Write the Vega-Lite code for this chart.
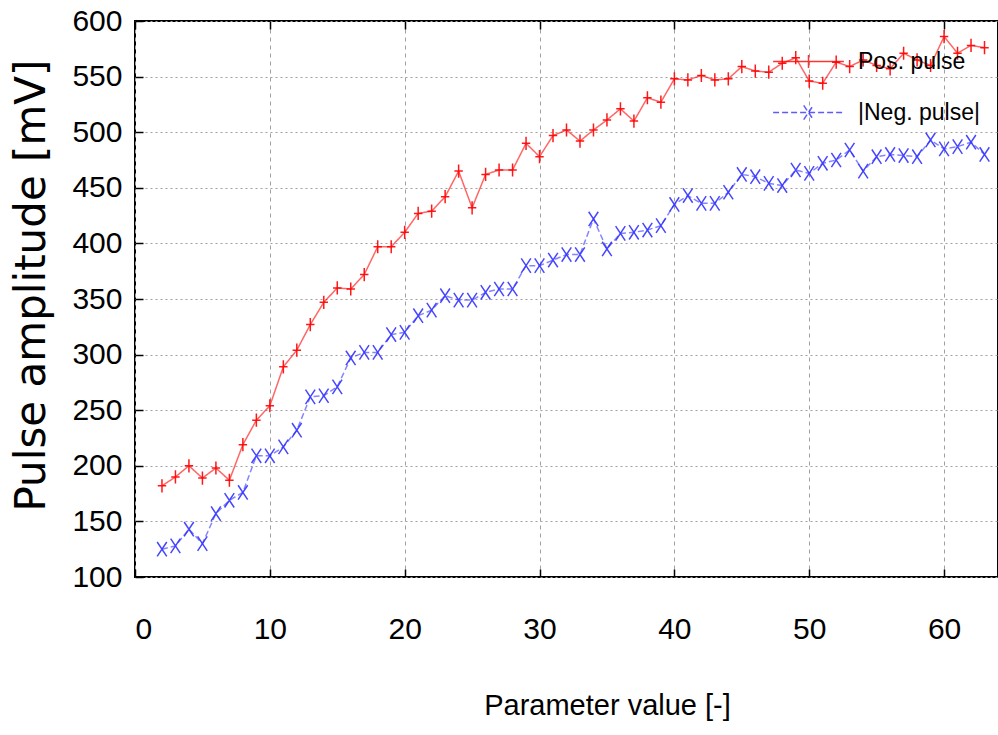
{
  "$schema": "https://vega.github.io/schema/vega-lite/v6.json",
  "width": 863,
  "height": 556,
  "autosize": {"type": "none"},
  "padding": {"left": 135, "top": 21, "right": 0, "bottom": 158},
  "background": "white",
  "config": {
    "view": {"stroke": "black", "strokeWidth": 2},
    "axis": {
      "labelFont": "Liberation Sans",
      "titleFont": "Liberation Sans",
      "labelColor": "black",
      "titleColor": "black",
      "titleFontWeight": "normal",
      "domain": false,
      "tickColor": "black",
      "tickWidth": 1.5
    }
  },
  "data": {"values": [
    {"x":2,"series":"Pos. pulse","y":182},{"x":3,"series":"Pos. pulse","y":190},{"x":4,"series":"Pos. pulse","y":200},{"x":5,"series":"Pos. pulse","y":189},{"x":6,"series":"Pos. pulse","y":198},{"x":7,"series":"Pos. pulse","y":187},{"x":8,"series":"Pos. pulse","y":219},{"x":9,"series":"Pos. pulse","y":241},{"x":10,"series":"Pos. pulse","y":254},{"x":11,"series":"Pos. pulse","y":289},{"x":12,"series":"Pos. pulse","y":304},{"x":13,"series":"Pos. pulse","y":327},{"x":14,"series":"Pos. pulse","y":347},{"x":15,"series":"Pos. pulse","y":360},{"x":16,"series":"Pos. pulse","y":359},{"x":17,"series":"Pos. pulse","y":372},{"x":18,"series":"Pos. pulse","y":397},{"x":19,"series":"Pos. pulse","y":397},{"x":20,"series":"Pos. pulse","y":410},{"x":21,"series":"Pos. pulse","y":427},{"x":22,"series":"Pos. pulse","y":429},{"x":23,"series":"Pos. pulse","y":442},{"x":24,"series":"Pos. pulse","y":465},{"x":25,"series":"Pos. pulse","y":432},{"x":26,"series":"Pos. pulse","y":462},{"x":27,"series":"Pos. pulse","y":466},{"x":28,"series":"Pos. pulse","y":466},{"x":29,"series":"Pos. pulse","y":490},{"x":30,"series":"Pos. pulse","y":478},{"x":31,"series":"Pos. pulse","y":497},{"x":32,"series":"Pos. pulse","y":502},{"x":33,"series":"Pos. pulse","y":492},{"x":34,"series":"Pos. pulse","y":502},{"x":35,"series":"Pos. pulse","y":511},{"x":36,"series":"Pos. pulse","y":521},{"x":37,"series":"Pos. pulse","y":510},{"x":38,"series":"Pos. pulse","y":531},{"x":39,"series":"Pos. pulse","y":527},{"x":40,"series":"Pos. pulse","y":548},{"x":41,"series":"Pos. pulse","y":547},{"x":42,"series":"Pos. pulse","y":551},{"x":43,"series":"Pos. pulse","y":547},{"x":44,"series":"Pos. pulse","y":548},{"x":45,"series":"Pos. pulse","y":559},{"x":46,"series":"Pos. pulse","y":555},{"x":47,"series":"Pos. pulse","y":554},{"x":48,"series":"Pos. pulse","y":562},{"x":49,"series":"Pos. pulse","y":567},{"x":50,"series":"Pos. pulse","y":546},{"x":51,"series":"Pos. pulse","y":544},{"x":52,"series":"Pos. pulse","y":563},{"x":53,"series":"Pos. pulse","y":559},{"x":54,"series":"Pos. pulse","y":565},{"x":55,"series":"Pos. pulse","y":560},{"x":56,"series":"Pos. pulse","y":557},{"x":57,"series":"Pos. pulse","y":571},{"x":58,"series":"Pos. pulse","y":565},{"x":59,"series":"Pos. pulse","y":560},{"x":60,"series":"Pos. pulse","y":586},{"x":61,"series":"Pos. pulse","y":571},{"x":62,"series":"Pos. pulse","y":578},{"x":63,"series":"Pos. pulse","y":576},
    {"x":2,"series":"|Neg. pulse|","y":125},{"x":3,"series":"|Neg. pulse|","y":128},{"x":4,"series":"|Neg. pulse|","y":143},{"x":5,"series":"|Neg. pulse|","y":130},{"x":6,"series":"|Neg. pulse|","y":157},{"x":7,"series":"|Neg. pulse|","y":169},{"x":8,"series":"|Neg. pulse|","y":176},{"x":9,"series":"|Neg. pulse|","y":209},{"x":10,"series":"|Neg. pulse|","y":209},{"x":11,"series":"|Neg. pulse|","y":217},{"x":12,"series":"|Neg. pulse|","y":232},{"x":13,"series":"|Neg. pulse|","y":262},{"x":14,"series":"|Neg. pulse|","y":263},{"x":15,"series":"|Neg. pulse|","y":271},{"x":16,"series":"|Neg. pulse|","y":297},{"x":17,"series":"|Neg. pulse|","y":302},{"x":18,"series":"|Neg. pulse|","y":302},{"x":19,"series":"|Neg. pulse|","y":318},{"x":20,"series":"|Neg. pulse|","y":320},{"x":21,"series":"|Neg. pulse|","y":335},{"x":22,"series":"|Neg. pulse|","y":340},{"x":23,"series":"|Neg. pulse|","y":353},{"x":24,"series":"|Neg. pulse|","y":349},{"x":25,"series":"|Neg. pulse|","y":349},{"x":26,"series":"|Neg. pulse|","y":356},{"x":27,"series":"|Neg. pulse|","y":359},{"x":28,"series":"|Neg. pulse|","y":359},{"x":29,"series":"|Neg. pulse|","y":380},{"x":30,"series":"|Neg. pulse|","y":380},{"x":31,"series":"|Neg. pulse|","y":385},{"x":32,"series":"|Neg. pulse|","y":390},{"x":33,"series":"|Neg. pulse|","y":390},{"x":34,"series":"|Neg. pulse|","y":422},{"x":35,"series":"|Neg. pulse|","y":395},{"x":36,"series":"|Neg. pulse|","y":409},{"x":37,"series":"|Neg. pulse|","y":410},{"x":38,"series":"|Neg. pulse|","y":412},{"x":39,"series":"|Neg. pulse|","y":416},{"x":40,"series":"|Neg. pulse|","y":435},{"x":41,"series":"|Neg. pulse|","y":443},{"x":42,"series":"|Neg. pulse|","y":436},{"x":43,"series":"|Neg. pulse|","y":436},{"x":44,"series":"|Neg. pulse|","y":446},{"x":45,"series":"|Neg. pulse|","y":462},{"x":46,"series":"|Neg. pulse|","y":460},{"x":47,"series":"|Neg. pulse|","y":454},{"x":48,"series":"|Neg. pulse|","y":452},{"x":49,"series":"|Neg. pulse|","y":466},{"x":50,"series":"|Neg. pulse|","y":463},{"x":51,"series":"|Neg. pulse|","y":472},{"x":52,"series":"|Neg. pulse|","y":475},{"x":53,"series":"|Neg. pulse|","y":484},{"x":54,"series":"|Neg. pulse|","y":465},{"x":55,"series":"|Neg. pulse|","y":478},{"x":56,"series":"|Neg. pulse|","y":480},{"x":57,"series":"|Neg. pulse|","y":479},{"x":58,"series":"|Neg. pulse|","y":478},{"x":59,"series":"|Neg. pulse|","y":493},{"x":60,"series":"|Neg. pulse|","y":485},{"x":61,"series":"|Neg. pulse|","y":487},{"x":62,"series":"|Neg. pulse|","y":491},{"x":63,"series":"|Neg. pulse|","y":480}
  ]},
  "resolve": {"axis": {"x": "independent"}},
  "layer": [
    {
      "mark": {"type": "line", "strokeWidth": 1.5, "opacity": 0.6},
      "encoding": {
        "x": {"field": "x", "type": "quantitative",
          "scale": {"domain": [0, 64], "nice": false},
          "axis": {"values": [0,10,20,30,40,50,60], "grid": true, "gridDash": [4,4], "gridColor": "#a0a0a0", "gridWidth": 1,
                   "tickSize": -8, "labelPadding": 45, "labelFontSize": 30, "labelBaseline": "top",
                   "title": "Parameter value [-]", "titleFontSize": 29, "titleX": 472, "titleY": 128, "titleAnchor": "middle", "titleAlign": "center", "titleBaseline": "middle"}},
        "y": {"field": "y", "type": "quantitative",
          "scale": {"domain": [100, 600], "nice": false},
          "axis": {"values": [100,150,200,250,300,350,400,450,500,550,600], "grid": true, "gridDash": [2,3], "gridColor": "#a0a0a0", "gridWidth": 1,
                   "tickSize": -8, "labelPadding": 21, "labelFontSize": 30,
                   "title": "Pulse amplitude [mV]", "titleFont": "DejaVu Sans", "titleFontSize": 42, "titleX": -104, "titleY": 264, "titleAngle": -90, "titleAlign": "center", "titleBaseline": "middle"}},
        "color": {"field": "series", "type": "nominal",
          "scale": {"domain": ["Pos. pulse", "|Neg. pulse|"], "range": ["#ff0000", "#3333ff"]},
          "legend": {
            "orient": "none", "legendX": 652, "legendY": 19, "padding": 10,
            "title": null, "labelFont": "Liberation Sans", "labelFontSize": 23, "labelColor": "black",
            "symbolType": "M-5.9,0L5.9,0", "symbolSize": 144, "symbolStrokeWidth": 1.5, "symbolOpacity": 0.8,
            "labelOffset": 38, "rowPadding": 27,
            "encode": {"symbols": {"update": {
              "shape": {"signal": "datum.value === 'Pos. pulse' ? 'M-5.9,0L5.9,0M0,-1.1L0,1.1' : 'M-5.9,0L5.9,0M-0.8,-1.2L0.8,1.2M-0.8,1.2L0.8,-1.2'"}
            }}}
          }},
        "strokeDash": {"field": "series", "type": "nominal",
          "scale": {"domain": ["Pos. pulse", "|Neg. pulse|"], "range": [[1,0],[6,3]]}}
      }
    },
    {
      "mark": {"type": "point", "filled": false, "strokeWidth": 1.5, "size": 144, "opacity": 0.9},
      "encoding": {
        "x": {"field": "x", "type": "quantitative",
          "axis": {"orient": "top", "values": [0,10,20,30,40,50,60], "labels": false, "grid": false, "tickSize": -8, "title": null}},
        "y": {"field": "y", "type": "quantitative"},
        "color": {"field": "series", "type": "nominal", "legend": null},
        "shape": {"field": "series", "type": "nominal",
          "scale": {"range": ["M-0.7,0H0.7M0,-1.1V1.1", "M-0.8,-1.2L0.8,1.2M-0.8,1.2L0.8,-1.2"]},
          "legend": null}
      }
    }
  ]
}
